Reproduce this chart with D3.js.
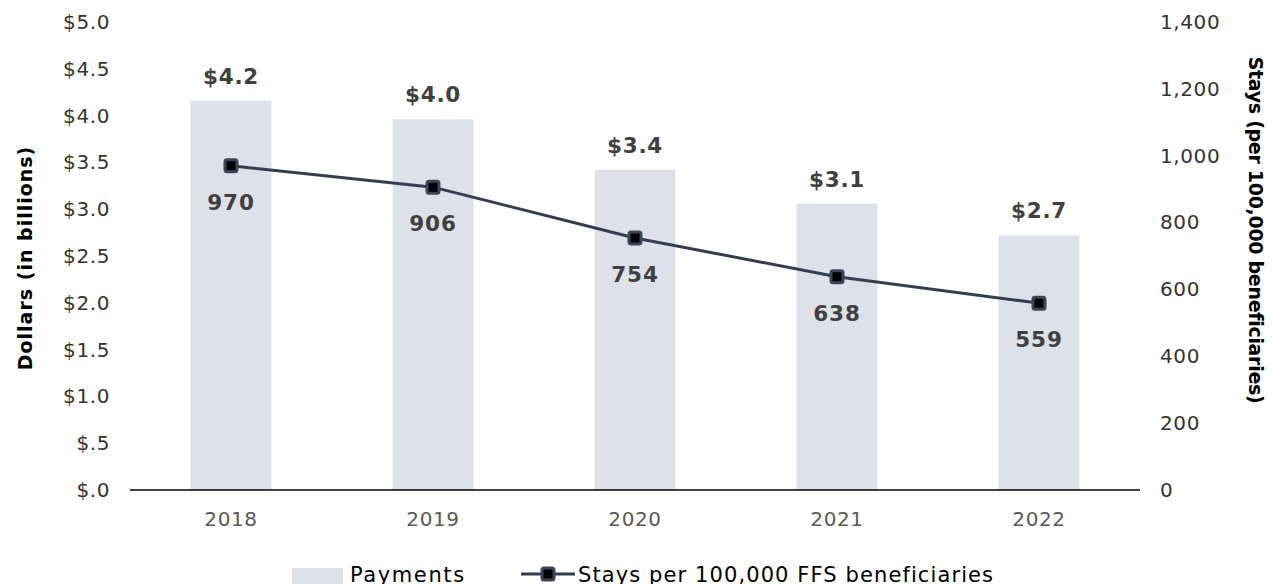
<!DOCTYPE html>
<html>
<head>
<meta charset="utf-8">
<script src="https://cdn.jsdelivr.net/npm/d3@7/dist/d3.min.js"></script>
<style>
  body { margin: 0; background: #fff; }
  svg { display: block; font-family: "DejaVu Sans", sans-serif; }
</style>
</head>
<body>
<svg id="chart" width="1272" height="584"></svg>
<script>
var years = ['2018', '2019', '2020', '2021', '2022'];
var payments = [4.16, 3.96, 3.42, 3.06, 2.72];
var stays = [970, 906, 754, 638, 559];
var leftTicks = [0, 0.5, 1, 1.5, 2, 2.5, 3, 3.5, 4, 4.5, 5];
var rightTicks = [0, 200, 400, 600, 800, 1000, 1200, 1400];

var svg = d3.select('#chart');
var plotLeft = 130, plotRight = 1140, plotTop = 22, plotBottom = 490;

var x = d3.scaleBand().domain(years).range([plotLeft, plotRight]).paddingInner(0.6).paddingOuter(0.3);
var yL = d3.scaleLinear().domain([0, 5]).range([plotBottom, plotTop]);
var yR = d3.scaleLinear().domain([0, 1400]).range([plotBottom, plotTop]);

// bars
svg.append('g').selectAll('rect')
  .data(payments)
  .join('rect')
  .attr('x', function (d, i) { return x(years[i]); })
  .attr('width', x.bandwidth())
  .attr('y', function (d) { return yL(d); })
  .attr('height', function (d) { return plotBottom - yL(d); })
  .attr('fill', '#dde1ea');

svg.append('g').selectAll('text')
  .data(payments)
  .join('text')
  .attr('x', function (d, i) { return x(years[i]) + x.bandwidth() / 2; })
  .attr('y', function (d) { return yL(d) - 17; })
  .attr('text-anchor', 'middle')
  .attr('font-size', 21.5)
  .attr('font-weight', 700)
  .attr('letter-spacing', 0.8)
  .attr('fill', '#404040')
  .text(function (d) { return '$' + d.toFixed(1); });

// axes
var axL = svg.append('g')
  .attr('transform', 'translate(' + plotLeft + ',0)')
  .call(d3.axisLeft(yL).tickValues(leftTicks).tickSize(0).tickPadding(20)
    .tickFormat(function (d) { return '$' + d3.format('.1f')(d).replace(/^0/, ''); }));
axL.select('.domain').remove();

var axR = svg.append('g')
  .attr('transform', 'translate(' + plotRight + ',0)')
  .call(d3.axisRight(yR).tickValues(rightTicks).tickSize(0).tickPadding(20).tickFormat(d3.format(',')));
axR.select('.domain').remove();

var axB = svg.append('g')
  .attr('transform', 'translate(0,' + plotBottom + ')')
  .call(d3.axisBottom(x).tickSize(0).tickPadding(22));
axB.select('.domain').attr('d', 'M' + plotLeft + ',0H' + plotRight).attr('stroke', '#000').attr('stroke-width', 1.3);

svg.selectAll('.tick text').attr('font-size', 20).attr('fill', '#333')
  .attr('letter-spacing', 0.6).attr('font-family', '"DejaVu Sans", sans-serif');
axB.selectAll('.tick text').attr('fill', '#595959');

// line
var line = d3.line()
  .x(function (d, i) { return x(years[i]) + x.bandwidth() / 2; })
  .y(function (d) { return yR(d); });

svg.append('path')
  .datum(stays)
  .attr('d', line)
  .attr('fill', 'none')
  .attr('stroke', '#333f50')
  .attr('stroke-width', 3);

svg.append('g').selectAll('rect')
  .data(stays)
  .join('rect')
  .attr('x', function (d, i) { return x(years[i]) + x.bandwidth() / 2 - 6; })
  .attr('y', function (d) { return yR(d) - 6; })
  .attr('width', 12)
  .attr('height', 12)
  .attr('rx', 2)
  .attr('fill', '#000')
  .attr('stroke', '#3b4558')
  .attr('stroke-width', 3);

svg.append('g').selectAll('text')
  .data(stays)
  .join('text')
  .attr('x', function (d, i) { return x(years[i]) + x.bandwidth() / 2; })
  .attr('y', function (d) { return yR(d) + 44; })
  .attr('text-anchor', 'middle')
  .attr('font-size', 21.5)
  .attr('font-weight', 700)
  .attr('letter-spacing', 0.8)
  .attr('fill', '#404040')
  .text(function (d) { return d; });

// axis titles
svg.append('text')
  .attr('transform', 'translate(32,258) rotate(-90)')
  .attr('text-anchor', 'middle')
  .attr('font-size', 19)
  .attr('font-weight', 700)
  .attr('letter-spacing', 1)
  .attr('fill', '#000')
  .text('Dollars (in billions)');

svg.append('text')
  .attr('transform', 'translate(1249,230) rotate(90)')
  .attr('text-anchor', 'middle')
  .attr('font-size', 19)
  .attr('font-weight', 700)
  .attr('letter-spacing', -0.3)
  .attr('fill', '#000')
  .text('Stays (per 100,000 beneficiaries)');

// legend
var lg = svg.append('g');
lg.append('rect').attr('x', 292).attr('y', 568).attr('width', 51).attr('height', 16).attr('fill', '#dde1ea');
lg.append('text').attr('x', 350).attr('y', 582).attr('font-size', 21).attr('letter-spacing', 1.6)
  .attr('fill', '#000').text('Payments');
lg.append('line').attr('x1', 521).attr('x2', 575).attr('y1', 574).attr('y2', 574)
  .attr('stroke', '#333f50').attr('stroke-width', 3);
lg.append('rect').attr('x', 542).attr('y', 568).attr('width', 12).attr('height', 12).attr('rx', 2)
  .attr('fill', '#000').attr('stroke', '#3b4558').attr('stroke-width', 3);
lg.append('text').attr('x', 578).attr('y', 582).attr('font-size', 21).attr('letter-spacing', 1.1)
  .attr('fill', '#000').text('Stays per 100,000 FFS beneficiaries');
</script>
</body>
</html>
